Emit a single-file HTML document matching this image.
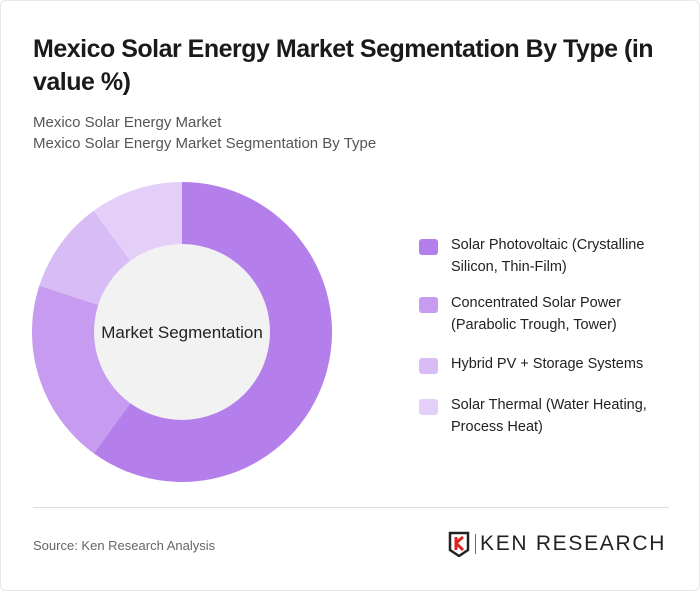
<!DOCTYPE html>
<html><head><meta charset="utf-8"><style>
body{margin:0;background:#fff;font-family:"Liberation Sans",sans-serif;}
#wrap{position:relative;width:698px;height:589px;border:1px solid #e8e8e8;border-radius:6px;overflow:hidden;background:#fff}
.t{position:absolute;left:32px;top:32px;width:650px;font-size:25px;font-weight:bold;line-height:33px;color:#1a1a1a;letter-spacing:-0.5px}
.s{position:absolute;left:32px;font-size:15px;color:#555}
.lg{position:absolute;left:418px;font-size:14.5px;color:#222;line-height:22px}
.lg i{position:absolute;left:0;top:2px;width:19px;height:16px;border-radius:3px}
.lg span{position:absolute;left:32px;top:-3px;width:222px}
</style></head><body>
<div id="wrap">
<div class="t">Mexico Solar Energy Market Segmentation By Type (in value %)</div>
<div class="s" style="top:113px">Mexico Solar Energy Market</div>
<div class="s" style="top:134px">Mexico Solar Energy Market Segmentation By Type</div>
<svg id="donut" width="700" height="591" style="position:absolute;left:0;top:0"></svg>
<div id="legend"></div>
<div style="position:absolute;left:32px;top:506px;width:636px;height:1px;background:#ddd"></div>
<div class="s" style="top:537px;font-size:13px;color:#666">Source: Ken Research Analysis</div>
<div style="position:absolute;left:447px;top:530px;width:222px;height:26px">
<svg width="24" height="26" style="position:absolute;left:0;top:0"><path d="M2 2h18v17l-9 6-9-6z" fill="none" stroke="#222" stroke-width="2.5"/><path d="M8 6v13M8 12l7-6M8 12l7 7" stroke="#d22" stroke-width="3" fill="none"/></svg>
<div style="position:absolute;left:27px;top:3px;width:1px;height:20px;background:#666"></div>
<div style="position:absolute;left:32px;top:1px;font-size:21px;color:#222;letter-spacing:1.7px">KEN RESEARCH</div>
</div>
</div>
<script>
const categories=["Solar Photovoltaic (Crystalline Silicon, Thin-Film)","Concentrated Solar Power (Parabolic Trough, Tower)","Hybrid PV + Storage Systems","Solar Thermal (Water Heating, Process Heat)"];
const values=[60,20,10,10];
const colors=["#b47fea","#c69bf0","#d8bcf5","#e4cff8"];
const legendTops=[236,294,355,396];
const cx=181,cy=331,R=150,r=88;
const svg=document.getElementById('donut');
const NS="http://www.w3.org/2000/svg";
const total=values.reduce((a,b)=>a+b,0);
let a0=0;
function pt(a,rad){return [cx+rad*Math.sin(a),cy-rad*Math.cos(a)];}
values.forEach((v,i)=>{
  const a1=a0+v/total*2*Math.PI;
  const [x0,y0]=pt(a0,R),[x1,y1]=pt(a1,R);
  const large=(a1-a0)>Math.PI?1:0;
  const p=document.createElementNS(NS,'path');
  p.setAttribute('d',`M${cx} ${cy}L${x0} ${y0}A${R} ${R} 0 ${large} 1 ${x1} ${y1}Z`);
  p.setAttribute('fill',colors[i]);
  
  
  svg.appendChild(p);
  a0=a1;
});
const c=document.createElementNS(NS,'circle');
c.setAttribute('cx',cx);c.setAttribute('cy',cy);c.setAttribute('r',r);c.setAttribute('fill','#f2f2f2');


svg.appendChild(c);
const t=document.createElementNS(NS,'text');
t.setAttribute('x',cx);t.setAttribute('y',cy+6);t.setAttribute('text-anchor','middle');
t.setAttribute('font-size','17');t.setAttribute('fill','#222');t.setAttribute('font-family','Liberation Sans, sans-serif');
t.textContent='Market Segmentation';


svg.appendChild(t);
const lg=document.getElementById('legend');
categories.forEach((name,i)=>{
  const d=document.createElement('div');
  d.className='lg';d.style.top=legendTops[i]+'px';
  
  
  d.innerHTML=`<i style="background:${colors[i]}"></i><span>${name}</span>`;
  lg.appendChild(d);
});
</script>
</body></html>
